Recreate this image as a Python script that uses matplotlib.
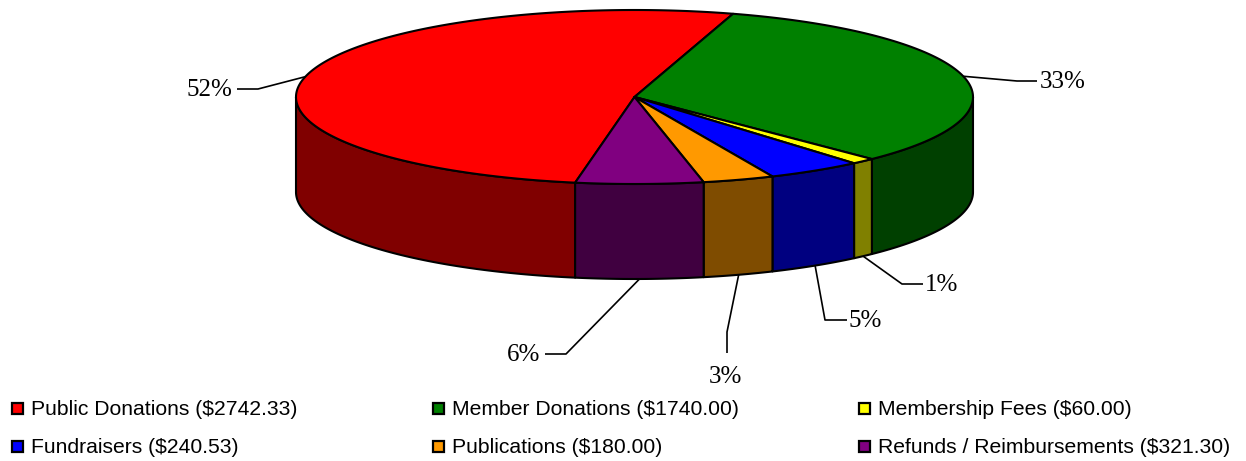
import numpy as np
import matplotlib
matplotlib.use("Agg")
import matplotlib.pyplot as plt
from matplotlib.patches import Polygon, Rectangle

# ---- data ----
categories = ["Public Donations", "Member Donations", "Membership Fees",
              "Fundraisers", "Publications", "Refunds / Reimbursements"]
values = [2742.33, 1740.00, 60.00, 240.53, 180.00, 321.30]
top_colors = ["#ff0000", "#008000", "#ffff00", "#0000ff", "#ff9900", "#800080"]
side_colors = ["#800000", "#004000", "#808000", "#000080", "#7f4c00", "#400040"]

# ---- layout (pixel space) ----
W, H = 1246, 461
cx, cy, rx, ry, depth = 634.5, 97.0, 338.5, 87.0, 95.0
start_angle = 259.9  # degrees, slices proceed clockwise

# label layout: elbow point, line end, text position, alignment
label_layout = [
    ((258, 89), (237, 89), (232, 90), "right", "center"),
    ((1017, 81), (1037, 81), (1040, 82), "left", "center"),
    ((902, 284), (923, 284), (925, 285), "left", "center"),
    ((825, 320), (847, 320), (849, 321), "left", "center"),
    ((727, 332), (727, 353), (725, 377), "center", "center"),
    ((566, 354), (545, 354), (540, 355), "right", "center"),
]

fig = plt.figure(figsize=(W / 100, H / 100), dpi=100)
ax = fig.add_axes([0, 0, 1, 1])
ax.set_xlim(0, W)
ax.set_ylim(H, 0)
ax.axis("off")


def ell(t_deg, dz=0.0):
    t = np.radians(t_deg)
    return cx + rx * np.cos(t), cy - ry * np.sin(t) + dz


total = float(sum(values))
fracs = [v / total for v in values]
bounds = []
cum = 0.0
for f in fracs:
    t2 = start_angle - cum * 360.0
    t1 = start_angle - (cum + f) * 360.0
    bounds.append((t1, t2))
    cum += f

EDGE_LW = 1.5

# side faces (front half: sin < 0)
for (t1, t2), sc in zip(bounds, side_colors):
    for lo, hi in [(-180.0, 0.0), (180.0, 360.0)]:
        a, b = max(t1, lo), min(t2, hi)
        if b - a <= 1e-6:
            continue
        ts = np.linspace(a, b, 120)
        xt, yt = ell(ts)
        xb, yb = ell(ts[::-1], depth)
        pts = np.column_stack([np.concatenate([xt, xb]), np.concatenate([yt, yb])])
        ax.add_patch(Polygon(pts, closed=True, facecolor=sc, edgecolor="black",
                             linewidth=EDGE_LW, joinstyle="round", zorder=2))

# top faces
for (t1, t2), tc in zip(bounds, top_colors):
    n = max(8, int((t2 - t1) * 2))
    ts = np.linspace(t1, t2, n)
    xs, ys = ell(ts)
    pts = np.column_stack([np.concatenate([[cx], xs]), np.concatenate([[cy], ys])])
    ax.add_patch(Polygon(pts, closed=True, facecolor=tc, edgecolor="black",
                         linewidth=EDGE_LW, joinstyle="round", zorder=3))

# percentage labels with leader lines
for (t1, t2), f, (elbow, end, tpos, ha, va) in zip(bounds, fracs, label_layout):
    mid = (t1 + t2) / 2.0
    if np.sin(np.radians(mid)) > 0:
        ax_, ay_ = ell(mid)
    else:
        ax_, ay_ = ell(mid, depth)
    ax.plot([ax_, elbow[0], end[0]], [ay_, elbow[1], end[1]], color="black",
            linewidth=1.2, zorder=4, solid_capstyle="butt")
    ax.text(tpos[0], tpos[1], f"{round(f * 100):d}%", ha=ha, va=va,
            fontsize=18, family=["Liberation Serif", "DejaVu Serif"], color="black", zorder=5)

# legend
col_x = [12, 433, 859]
row_y = [408, 446]
for i, (name, v, tc) in enumerate(zip(categories, values, top_colors)):
    r, c = divmod(i, 3)
    x0, y0 = col_x[c], row_y[r]
    ax.add_patch(Rectangle((x0, y0 - 5.5), 11, 11, facecolor=tc, edgecolor="black",
                           linewidth=1.6, zorder=5))
    ax.text(x0 + 19, y0 + 1, f"{name} (${v:.2f})", ha="left", va="center",
            fontsize=15.2, family=["Liberation Sans", "DejaVu Sans"], color="black")

fig.savefig("out.png", dpi=100, facecolor="white")
